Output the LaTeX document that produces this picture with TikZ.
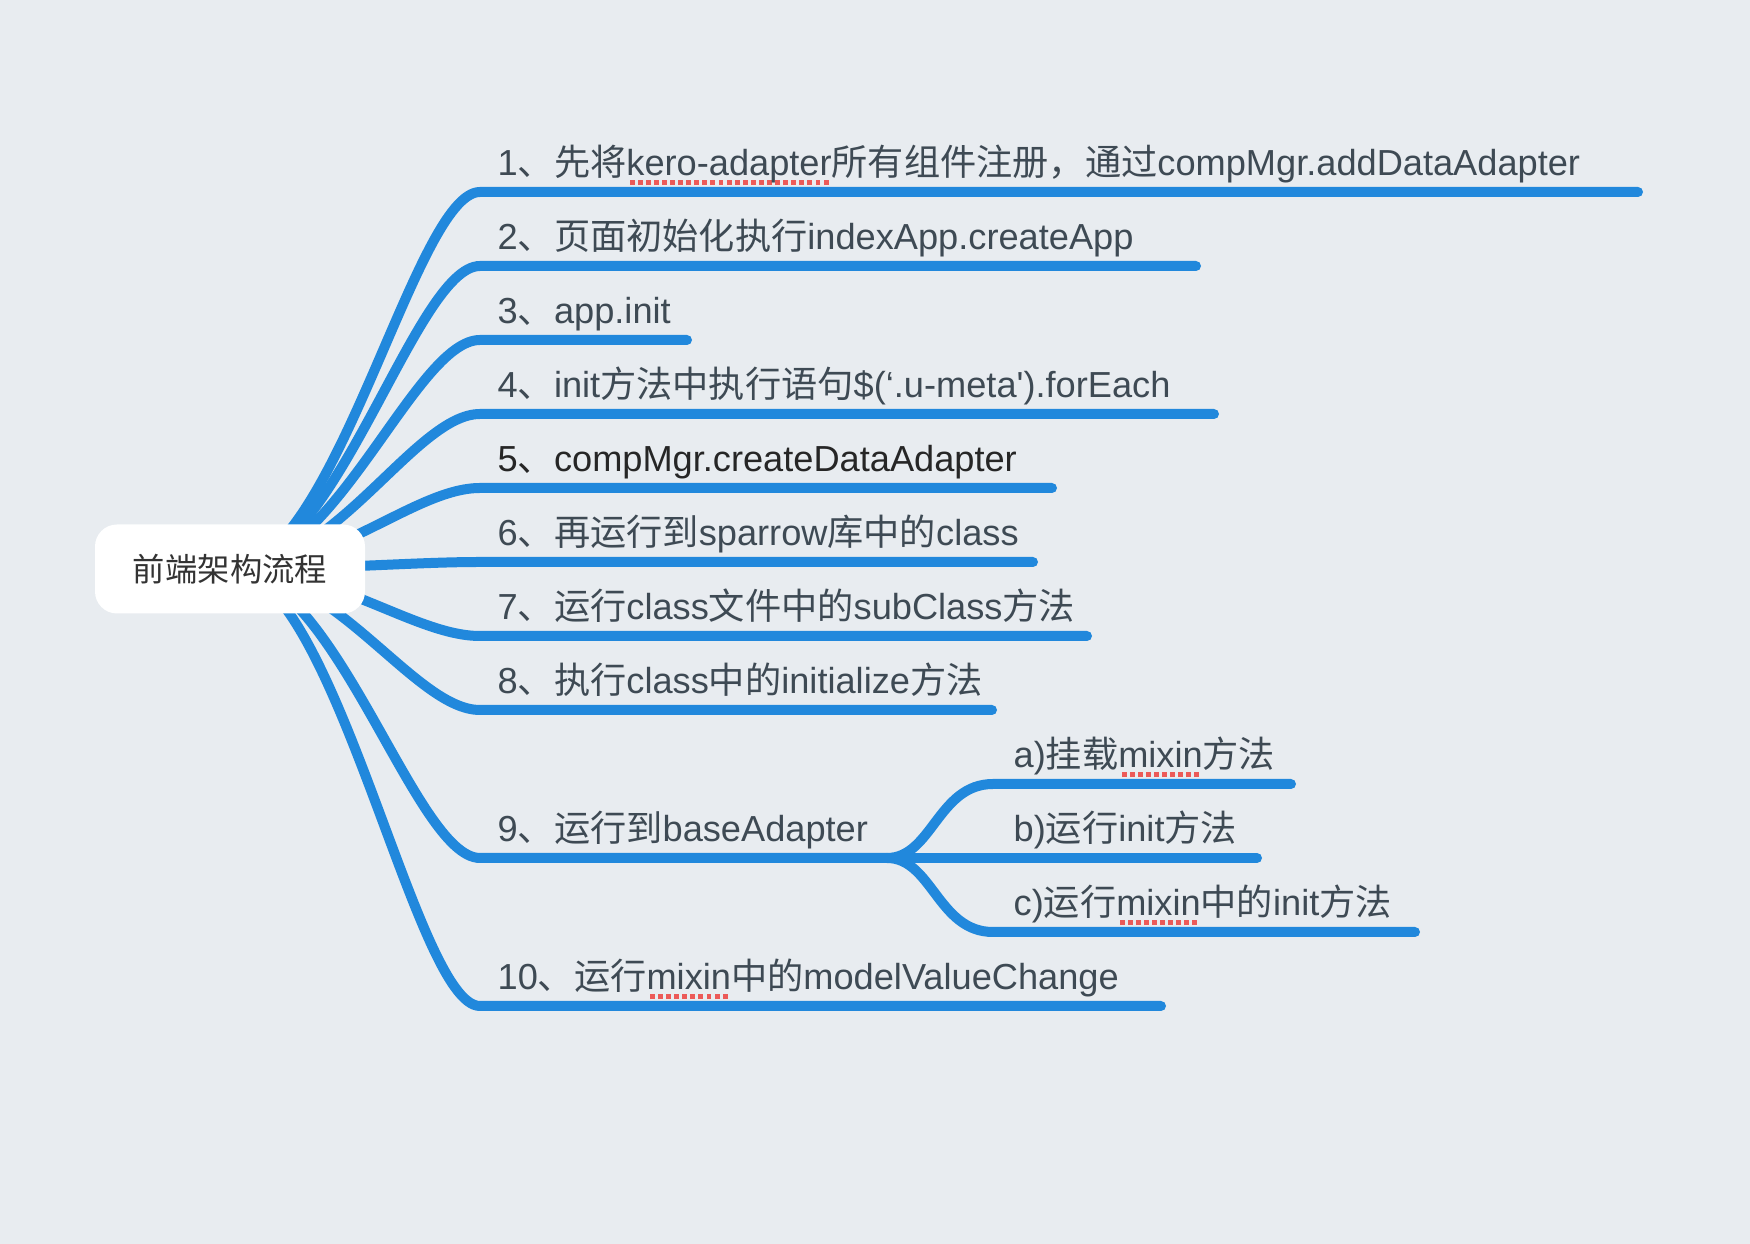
\documentclass[tikz,border=0pt]{standalone}
\usepackage{fontspec}
\setmainfont{Liberation Sans}[Ligatures=TeXOff]
\newfontfamily\zhfont{Noto Sans CJK SC}
\newcommand\zh[1]{{\zhfont#1}}
\definecolor{bgcol}{HTML}{E8ECF0}
\definecolor{branchblue}{HTML}{2188DC}
\definecolor{textgray}{HTML}{3E4A54}
\definecolor{spellred}{HTML}{EC5A58}
\newsavebox\spellbox
\newcommand\spell[1]{\sbox\spellbox{#1}\rlap{\raisebox{-2.6pt}{\textcolor{spellred}{\hbox to\wd\spellbox{\cleaders\hbox to 2.3pt{\hss\vrule width 1.4pt height 1.4pt\hss}\hfill}}}}\usebox\spellbox}
\pgfdeclarelayer{bg}
\pgfdeclarelayer{edges}
\pgfsetlayers{bg,edges,main}

\begin{document}
\begin{tikzpicture}[x=0.1mm,y=-0.1mm,
	branch/.style={draw=branchblue,line width=1mm,line cap=round},
	root/.style={fill=white,rounded corners=2.2mm,minimum width=27mm,minimum height=8.9mm,
		inner sep=0pt,text=black!80,font=\fontsize{9.2}{11}\selectfont},
	item/.style={anchor=base west,inner sep=0pt,text=textgray,font=\fontsize{10.3}{12}\selectfont}]
	
	\begin{pgfonlayer}{bg}
	\fill[bgcol] (0,0) rectangle (1750,1244);
	\end{pgfonlayer}
	\useasboundingbox (0,0) rectangle (1750,1244);
	
	\node[root] (root) at (230,569) {\zh{前端架构流程}};
	
	% main branches
	\foreach \n/\y/\len/\txt in {
		1/192/1638/{1\zh{、先将}\spell{kero-adapter}\zh{所有组件注册，通过}compMgr.addDataAdapter},
		2/266/1196/{2\zh{、页面初始化执行}indexApp.createApp},
		3/340/687/{3\zh{、}app.init},
		4/414/1214/{4\zh{、}init\zh{方法中执行语句}\$(‘.u-meta').forEach},
		5/488/1052/{\textcolor{black!85}{5\zh{、}compMgr.createDataAdapter}},
		6/562/1033/{6\zh{、再运行到}sparrow\zh{库中的}class},
		7/636/1087/{7\zh{、运行}class\zh{文件中的}subClass\zh{方法}},
		8/710/992/{8\zh{、执行}class\zh{中的}initialize\zh{方法}},
		9/858/887/{9\zh{、运行到}baseAdapter},
		10/1006/1161/{10\zh{、运行}\spell{mixin}\zh{中的}modelValueChange}} {
		\coordinate (s\n) at (480,\y);
		\coordinate (e\n) at (\len,\y);
		\node[item] (t\n) at (497,\y-16) {\txt};
		\begin{pgfonlayer}{edges}
		\draw[branch] (root.center) .. controls +(105,0) and +(-65,0) .. (s\n) -- (e\n);
		\end{pgfonlayer}
	}
	
	% sub branches of 9
	\foreach \m/\y/\len/\txt in {
		a/784/1291/{a)\zh{挂载}\spell{mixin}\zh{方法}},
		b/858/1257/{b)\zh{运行}init\zh{方法}},
		c/932/1415/{c)\zh{运行}\spell{mixin}\zh{中的}init\zh{方法}}} {
		\coordinate (s\m) at (993,\y);
		\coordinate (e\m) at (\len,\y);
		\node[item] (t\m) at (1013,\y-16) {\txt};
		\begin{pgfonlayer}{edges}
		\draw[branch] (e9) .. controls +(45,0) and +(-55,0) .. (s\m) -- (e\m);
		\end{pgfonlayer}
	}
\end{tikzpicture}
\end{document}
